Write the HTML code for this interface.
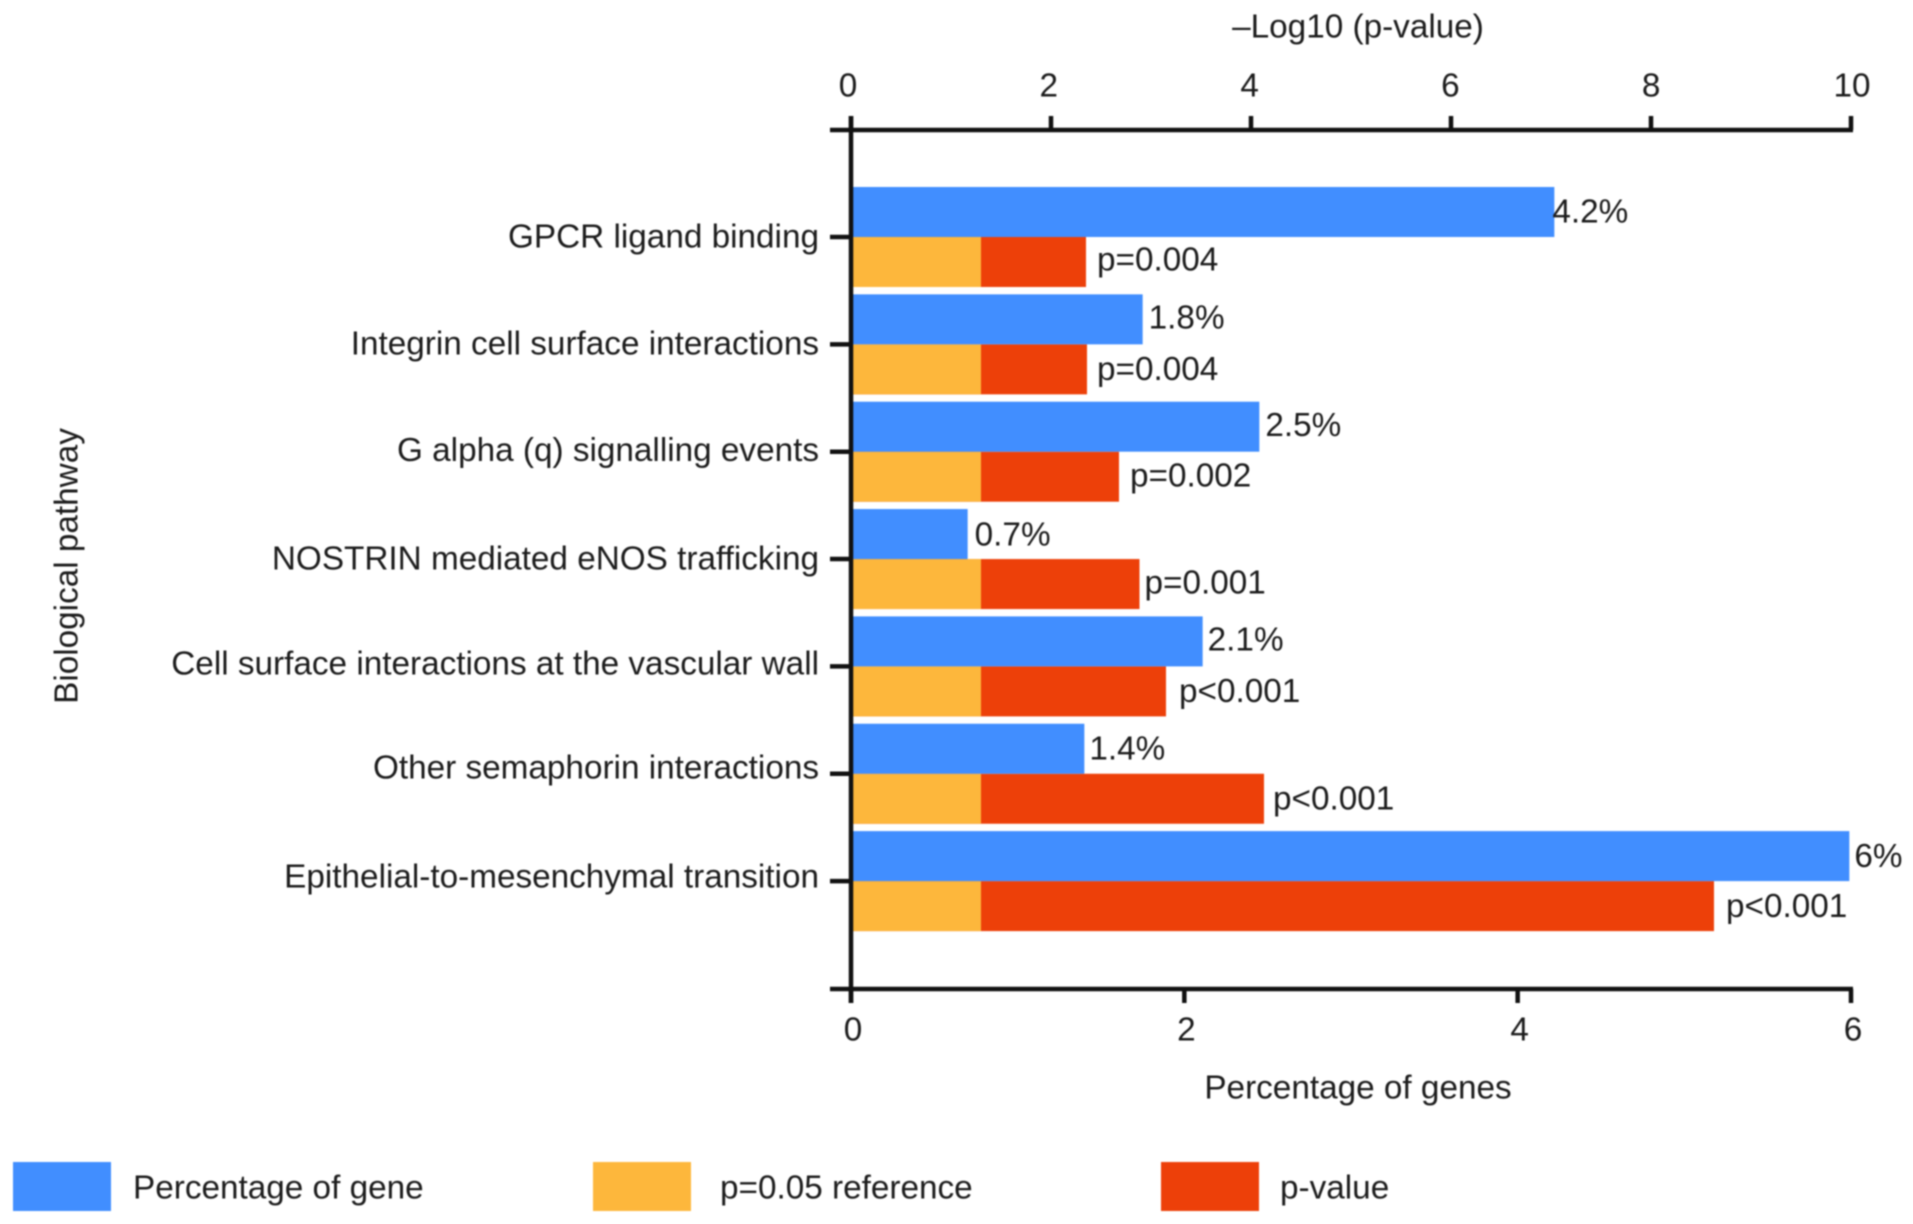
<!DOCTYPE html>
<html>
<head>
<meta charset="utf-8">
<style>
html,body{margin:0;padding:0;background:#fff;}
svg{display:block;filter:blur(0.7px);}
text{font-family:"Liberation Sans",sans-serif;font-size:33.3px;fill:#1c1c1c;}
</style>
</head>
<body>
<svg id="chart" xmlns="http://www.w3.org/2000/svg" width="1913" height="1224" viewBox="0 0 1913 1224"></svg>
<script>
const categories = [
  "GPCR ligand binding",
  "Integrin cell surface interactions",
  "G alpha (q) signalling events",
  "NOSTRIN mediated eNOS trafficking",
  "Cell surface interactions at the vascular wall",
  "Other semaphorin interactions",
  "Epithelial-to-mesenchymal transition"
];
const percentValues = [4.22, 1.75, 2.45, 0.7, 2.11, 1.4, 5.99];
const percentLabels = ["4.2%", "1.8%", "2.5%", "0.7%", "2.1%", "1.4%", "6%"];
const logPValues = [2.35, 2.36, 2.68, 2.885, 3.15, 4.13, 8.63];
const pLabels = ["p=0.004", "p=0.004", "p=0.002", "p=0.001", "p<0.001", "p<0.001", "p<0.001"];
const referenceValue = 1.3;
const topTicks = [0, 2, 4, 6, 8, 10];
const bottomTicks = [0, 2, 4, 6];
const legendLabels = ["Percentage of gene", "p=0.05 reference", "p-value"];

const svg = document.getElementById('chart');
const NS = 'http://www.w3.org/2000/svg';
const BLUE = '#418EFF', ORANGE = '#FDB73C', RED = '#ED4009', INK = '#111';
const X0 = 851, X1 = 1851, TOP = 130, BOTTOM = 989;

/* Hand-placement offsets of the printed labels relative to their marks. */
const pctLabelDx = [-7, 1, 1, 2, 0, 0, 0];
const pctLabelDy = [0, -1.5, -1.5, 1, -1.5, 0, 0];
const pLabelDx = [1, 0, 1, -5, 3, -1, 2];
const pLabelDy = [-2.4, 0, -1, -1, 0, 0, 0];
const catLabelDy = [0, 0, 0, 2, 0, -2.4, 0];

function xPct(v) { return X0 + v / 6 * (X1 - X0); }
function xLog(v) { return X0 + v / 10 * (X1 - X0); }
function yBand(i) { return 237 + i * 107.35; }

function make(tag, attrs, text) {
  const el = document.createElementNS(NS, tag);
  for (const k in attrs) el.setAttribute(k, attrs[k]);
  if (text !== undefined) el.textContent = text;
  svg.appendChild(el);
  return el;
}
function rect(x, y, w, h, fill) {
  return make('rect', { x: x, y: y, width: w, height: h, fill: fill });
}
function line(x1, y1, x2, y2) {
  return make('line', { x1: x1, y1: y1, x2: x2, y2: y2, stroke: INK, 'stroke-width': 4.5 });
}
function label(x, y, str, anchor) {
  return make('text', { x: x, y: y, dy: '0.35em', 'text-anchor': anchor || 'start' }, str);
}

categories.forEach(function (name, i) {
  const yc = yBand(i);

  const red = rect(X0, yc, xLog(logPValues[i]) - X0, 50, RED);
  
  

  const ref = rect(X0, yc, xLog(referenceValue) - X0, 50, ORANGE);
  
  

  const blue = rect(X0, yc - 50, xPct(percentValues[i]) - X0, 50, BLUE);
  
  

  const pct = label(xPct(percentValues[i]) + 5 + pctLabelDx[i], yc - 26 + pctLabelDy[i], percentLabels[i]);
  
  

  const pv = label(xLog(logPValues[i]) + 10 + pLabelDx[i], yc + 24 + pLabelDy[i], pLabels[i]);
  
  

  const tick = line(830, yc, X0, yc);
  
  

  const cat = label(819, yc - 1 - i * 0.7 + catLabelDy[i], name, 'end');
  
  
});

const yAxis = line(X0, 116, X0, 1003);



const topAxis = line(830, TOP, X1 + 2, TOP);



const bottomAxis = line(830, BOTTOM, X1 + 2, BOTTOM);



topTicks.forEach(function (v) {
  const t = line(xLog(v), 116, xLog(v), TOP);
  
  
  const l = label(xLog(v) - 3 + v * 0.4, 85, String(v), 'middle');
  
  
});

bottomTicks.forEach(function (v) {
  const t = line(xPct(v), BOTTOM, xPct(v), 1003);
  
  
  const l = label(xPct(v) + 2, 1029, String(v), 'middle');
  
  
});

const topTitle = label(1358, 26, '\u2013Log10 (p-value)', 'middle');



const bottomTitle = label(1358, 1087, 'Percentage of genes', 'middle');



const yTitle = make('text', { transform: 'translate(66 566) rotate(-90)', dy: '0.35em', 'text-anchor': 'middle' }, 'Biological pathway');



const legendColors = [BLUE, ORANGE, RED];
const legendSwatchX = [13, 593, 1161];
const legendTextX = [133, 720, 1280];
legendLabels.forEach(function (name, i) {
  const s = rect(legendSwatchX[i], 1162, 98, 49, legendColors[i]);
  
  
  const t = label(legendTextX[i], 1187, name);
  
  
});
</script>
</body>
</html>
